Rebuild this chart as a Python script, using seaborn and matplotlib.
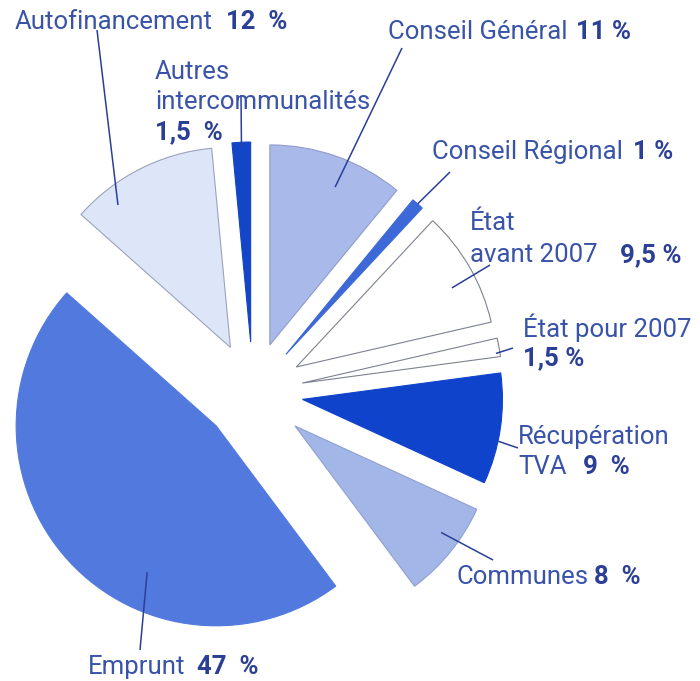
import matplotlib
matplotlib.use("Agg")
import matplotlib.pyplot as plt
import seaborn as sns
import numpy as np

# ---------------- data ----------------
categories = ["Conseil Général", "Conseil Régional", "État avant 2007", "État pour 2007",
              "Récupération TVA", "Communes", "Emprunt", "Autofinancement",
              "Autres intercommunalités"]
shares = [11, 1, 9.5, 1.5, 9, 8, 47, 12, 1.5]
pct_labels = ["11 %", "1 %", "9,5 %", "1,5 %", "9  %", "8  %", "47  %", "12  %", "1,5  %"]
label_lines = [["Conseil Général"], ["Conseil Régional"], ["État", "avant 2007"],
               ["État pour 2007", ""], ["Récupération", "TVA"], ["Communes"],
               ["Emprunt"], ["Autofinancement"], ["Autres", "intercommunalités", ""]]

# ---------------- style / layout ----------------
colors = ["#a9b9ea", "#3d68d8", "#ffffff", "#ffffff", "#0f43cc",
          "#a3b6e8", "#5179de", "#dde5f8", "#1445c6"]
edgecolors = ["#8f9cc8", "#3d68d8", "#7d8290", "#7d8290", "#0f43cc",
              "#8fa0d0", "#5179de", "#9aa3bd", "#1445c6"]
explode = [0.25, 0.25, 0.25, 0.25, 0.25, 0.27, 0.25, 0.25, 0.25]

SCALE = 200.0          # pixels per data unit
CX, CY = 253.0, 392.0  # pie centre in pixels


def px(x, y):
    return ((x - CX) / SCALE, (CY - y) / SCALE)


label_pos_px = [(388, 32), (432, 152), (470, 223), (523, 328), (518, 437),
                (457, 577), (88, 667), (15, 22), (155, 72)]
line_step_px = [30, 30, 32, 30, 30, 30, 30, 30, 30]
pct_gap_pt = [6, 7, 16, 0, 12, 3.5, 8, 9, 0]
leader_end_px = [(402, 48), (450, 172), (490, 265), (513, 348), (518, 448),
                 (493, 560), (140, 650), (97, 30), (241, 95)]
anchor_fr = [0.854, 1.0, 0.873, 0.98, 1.0, 0.904, 0.809, 0.907, 0.98]
anchor_ft = [0.43, 0.5, 0.41, 0.2, 0.39, 0.60, 0.632, 0.766, 0.5]

text_color = "#3853a9"
pct_color = "#2b3f96"
line_color = "#2a3f98"

sns.set_theme(style="white")
plt.rcParams["font.family"] = ["Roboto", "DejaVu Sans"]

fig = plt.figure(figsize=(7.0, 6.81), dpi=100)
fig.patch.set_facecolor("white")
ax = fig.add_axes([0, 0, 1, 1])

wedges, _ = ax.pie(shares, colors=colors, explode=explode, startangle=90,
                   counterclock=False, radius=1.0,
                   wedgeprops=dict(linewidth=0.8))
for w, ec in zip(wedges, edgecolors):
    w.set_edgecolor(ec)

ax.set_xlim(-CX / SCALE, (700 - CX) / SCALE)
ax.set_ylim(-(681 - CY) / SCALE, CY / SCALE)
ax.set_aspect("equal")
ax.axis("off")

FS = 18.5
for i, w in enumerate(wedges):
    # leader line from inside the wedge to the label
    th = np.deg2rad(w.theta1 + anchor_ft[i] * (w.theta2 - w.theta1))
    cx, cy = w.center
    ax_x = cx + anchor_fr[i] * w.r * np.cos(th)
    ax_y = cy + anchor_fr[i] * w.r * np.sin(th)
    ex, ey = px(*leader_end_px[i])
    ax.plot([ax_x, ex], [ax_y, ey], color=line_color, lw=1.1, solid_capstyle="butt")

    # label text
    lx, ly = px(*label_pos_px[i])
    step = line_step_px[i] / SCALE
    last = None
    lines = label_lines[i]
    for j, line in enumerate(lines):
        if line:
            last = ax.text(lx, ly - j * step, line, ha="left", va="center",
                           fontsize=FS, color=text_color)
    jl = len(lines) - 1
    if lines[-1] == "":
        ax.text(lx, ly - jl * step, pct_labels[i], ha="left", va="center",
                fontsize=FS, color=pct_color, fontweight="bold")
    else:
        ax.annotate(pct_labels[i], xy=(1, 0), xycoords=last,
                    xytext=(pct_gap_pt[i], 0), textcoords="offset points",
                    ha="left", va="bottom", fontsize=FS, color=pct_color,
                    fontweight="bold")

fig.savefig("out.png", dpi=100)
